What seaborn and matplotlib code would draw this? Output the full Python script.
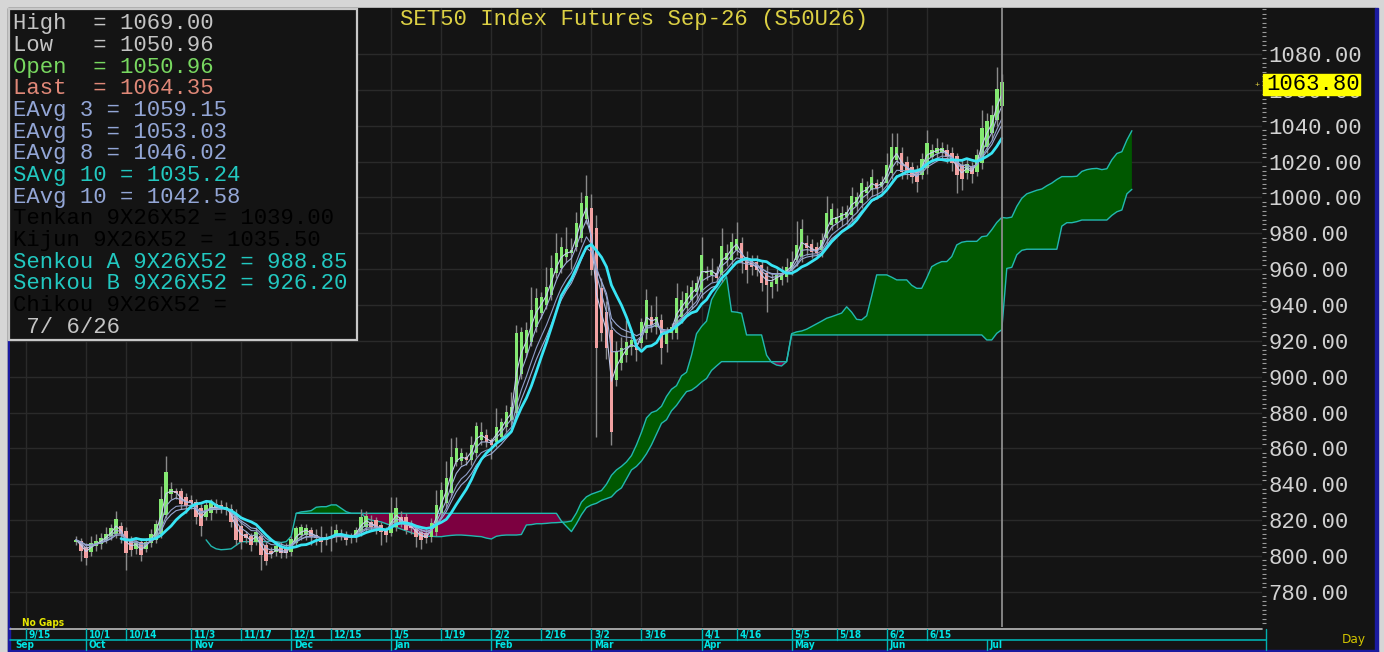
import numpy as np
import pandas as pd
import seaborn as sns
import matplotlib.pyplot as plt
import matplotlib.transforms as mtrans
from matplotlib import font_manager
from matplotlib.lines import Line2D
from matplotlib.patches import Rectangle
from matplotlib.ticker import MultipleLocator

# ---------------- data ----------------
# bar positions: 9/15 = 0, first candle sits at position 10
first_bar = 10

open_ = [808, 808.5, 805, 802, 805.5, 806.5, 809, 811, 812.5, 817,
         814, 809, 804, 808, 804, 807, 809, 812, 823, 834.5,
         836, 836, 833, 831, 830, 826.5, 822, 824, 829, 828.5,
         825.5, 826, 823, 817, 812, 811, 808, 811, 806, 803,
         802.5, 805.5, 805, 802.5, 807, 811.5, 811.5, 814.5, 811.7, 810.8,
         810.8, 810, 810.8, 812, 811.7, 810, 810.8, 813.6, 816.4, 819.2,
         820, 817.3, 814.5, 813, 816.4, 822, 822, 818.2, 814.9, 813.6,
         812.7, 810.8, 813.6, 823.8, 829.4, 835, 852.6, 853, 855.4, 853.6,
         857.3, 864.7, 867.5, 864.7, 863.8, 866.6, 871.8, 875.9, 879.6, 901.5,
         913.4, 919.6, 927.9, 935.4, 940, 945.6, 957.7, 960.5, 966.6, 969,
         972.5, 977.2, 988, 993.9, 982.8, 949.3, 936.3, 926.1, 898.2, 907.5,
         912.1, 916.8, 918.7, 918.7, 924.2, 933.5, 927.9, 931.7, 918, 924.2,
         924.2, 933.5, 938.2, 942.8, 947.5, 947.5, 957.7, 956.8, 957.7, 956.8,
         965.1, 965.1, 970.7, 974.4, 967, 965.1, 964.2, 962.3, 957.7, 950.3,
         951.8, 954, 955.8, 959.6, 965.1, 967, 974.4, 973.9, 972.2, 970.7,
         977.2, 984.7, 986, 987.4, 988.9, 990.2, 995.3, 996.7, 1002.3, 1004.2,
         1007.9, 1006.4, 1007.9, 1013.5, 1020.9, 1024.6, 1020, 1017.2, 1015.3, 1012.5,
         1016.3, 1022.8, 1024.6, 1024.6, 1026.5, 1024.6, 1023, 1018, 1013.8, 1017.2,
         1014.4, 1019, 1028.3, 1035.7, 1043, 1050.96]

high = [811, 810, 807, 811, 812, 813, 816, 818, 825, 819,
        816, 811, 809, 810, 810, 815, 820, 839, 856, 841,
        838, 838, 835, 834, 832, 829, 831, 832, 832, 831,
        830, 829, 826, 820, 814, 813, 816, 813, 808, 805,
        808, 808, 807, 811, 817, 818, 818, 816, 815, 817,
        813, 817, 818, 815, 814, 813, 816, 826, 825, 823,
        822, 819, 816, 833, 833, 825, 824, 820, 817, 815,
        815, 821, 837, 841, 853, 866, 866.6, 860, 858, 867,
        874.9, 874.9, 871, 866, 882.4, 877, 884.2, 891.7, 928.9, 928,
        930.7, 950.2, 949.3, 947, 961.4, 967.9, 980, 978.1, 983.7, 977.2,
        992.1, 1003.2, 1012.5, 1002, 990, 955, 942, 931, 920, 922,
        931.7, 925, 921, 933, 949, 940, 945, 935, 928, 930,
        952, 948, 951, 954, 956, 978, 962, 966, 962, 982.8,
        974, 980, 986.4, 978, 970, 968, 968, 965, 962, 958,
        960, 962, 966, 970, 987, 988, 979, 977, 975, 980,
        1001, 997, 994, 995, 996, 1006, 1003, 1011, 1009, 1016,
        1010, 1012, 1025, 1036, 1036, 1028, 1023, 1020, 1018, 1025,
        1037.5, 1030, 1033, 1031, 1030, 1028, 1025, 1021, 1022, 1020,
        1027, 1048.8, 1046.9, 1051.5, 1072.9, 1069]

low = [806, 797, 795, 800, 803, 804, 807, 809, 810, 807,
       792, 800, 801, 797, 802, 805, 807, 810, 821, 832,
       832, 826, 824, 826, 818, 811, 820, 820, 824, 824,
       823, 816, 806, 804, 807, 803, 806, 792, 795, 799,
       800, 799, 799, 800, 805, 809, 809, 806, 806, 802.4,
       806, 803, 808, 809, 806, 807, 808, 811, 814, 814,
       812, 806, 808, 811, 814, 816, 812, 812, 805, 804,
       807, 808, 811, 821, 827, 833, 850, 851, 851, 851,
       855, 862, 861, 854, 861, 864, 869, 873, 877, 899,
       911, 917, 925, 933, 938, 943, 955, 958, 964, 960,
       970, 975, 985, 957, 866.6, 920, 910, 862, 895, 904,
       908, 912, 909, 916, 921, 925, 924, 907, 914, 921,
       921, 930, 934, 938, 943, 944, 954, 953, 952, 953,
       962, 962, 968, 958, 952, 957, 956, 948, 936.3, 944,
       948, 951, 953, 957, 962, 964, 968, 966, 966, 967,
       974, 982, 983, 984, 985, 987, 992, 994, 999, 1001,
       999, 1003, 1005, 1010, 1018, 1010, 1010, 1008, 1003, 1010,
       1013, 1020, 1021, 1021, 1019, 1015, 1002.3, 1004, 1010, 1008,
       1012, 1016, 1025, 1032, 1040, 1050.96]

close = [809, 803, 799, 807, 808.5, 810, 812.5, 815.5, 820.5, 812,
         801.5, 803.5, 807, 800.5, 808, 812.5, 818, 832, 847, 837.5,
         835, 829, 828, 829.5, 822, 816.5, 828.5, 829.5, 826.5, 826.5,
         827.5, 819, 809, 808, 810, 806, 813.5, 800.5, 797, 801,
         805.5, 801.5, 801.5, 809.5, 815.5, 816, 815.5, 810.8, 809.9, 808,
         809, 810.5, 814.5, 811, 808.9, 811, 814.5, 821.6, 822.3, 816.4,
         815.4, 813.6, 811.7, 824.2, 826.6, 818.2, 814.5, 815.4, 810.8, 808.9,
         809.9, 818.2, 828.5, 836.8, 843.3, 855.4, 860.1, 857.3, 853.6, 861.9,
         872.5, 869.4, 863.8, 862, 871.8, 874.9, 880.5, 883.3, 924.2, 925.1,
         926.1, 937.2, 943.7, 944.7, 950.2, 960.5, 969.2, 972.2, 971.1, 970.7,
         985.9, 997.1, 1000.8, 959.5, 915.9, 924.2, 915.9, 869.4, 914, 915.9,
         919.6, 920.5, 914.9, 930.7, 942.8, 928.9, 933.5, 915.9, 924, 927.9,
         943.7, 942.8, 946.5, 950.3, 952.1, 967.9, 958.6, 959.5, 954.9, 972.9,
         968.8, 975.3, 976.7, 964.2, 959.5, 961.4, 959.5, 952.1, 951.2, 953.1,
         956.8, 958.1, 961.4, 964.2, 973.5, 982.2, 971.6, 969.8, 968.9, 976.3,
         991.5, 993.4, 989.3, 991.2, 992.1, 1000.8, 1000.1, 1007.9, 1005.7, 1011.2,
         1005.1, 1008.8, 1018.1, 1028.4, 1028.4, 1014.4, 1014.4, 1011.6, 1008.8, 1021.3,
         1030.6, 1026.5, 1027.4, 1027.4, 1022.8, 1019.1, 1012.5, 1010.1, 1018.6, 1012.8,
         1023.7, 1038.5, 1042.8, 1046, 1060.3, 1064.35]

# Ichimoku cloud lines (already shifted forward), positions start at these bars
senkou_a_start = 36
senkou_a = ([809, 805.5, 804, 803.5, 803.7, 804, 806, 808, 808, 808,
             808, 808, 808, 808.5, 808, 807.5, 808, 811]
            + [823.8, 824.6, 824.9, 825.3, 827.2, 827.5, 827.5, 828.5, 828.5, 826.6,
               824.7, 823.8, 823.8, 823.8]
            + [821, 820, 819.5, 819, 818, 817, 816, 815, 814, 813,
               812, 811.5, 811, 811, 810.8, 810.8, 811.2, 811.5, 811.7, 811.7,
               811.5, 811.3, 811, 810.8, 810, 809.5, 811, 811.5, 811.7, 811.7,
               811.7, 812, 817.3, 817.5, 818, 818, 818.2, 818.5, 818.6]
            + [818.8, 819, 819.5, 824, 830, 833, 834.5, 835.5, 836.5, 840, 845]
            + [848, 850, 852.5, 856, 862, 869, 877, 880, 881, 883.5,
               889, 893, 895, 900.5, 902.5, 912, 924, 928, 931, 943,
               948, 952, 955.8, 936.3, 936, 935.4, 923.3, 923.3, 923.3, 923.3]
            + [912, 908, 906.5, 906, 908.4, 924]
            + [925, 925.5, 926.5, 928, 929.5, 931, 932.6, 933.5, 934.5, 935.5,
               939, 936, 932, 931.7, 934, 945, 956.8, 956.8, 956.8, 955.5,
               954, 954, 954, 951, 949.3, 949.3, 955, 961.4, 963, 964.2,
               964.2, 967, 973.5, 975, 975.5, 975.5, 975.5, 978.1, 978.5, 982,
               986, 988.85]
            + [988.5, 989, 995, 999.5, 1002, 1003, 1004, 1004.7, 1006.5, 1008,
               1010, 1011.6, 1011.6, 1011.6, 1011.8, 1014.5, 1015.5, 1016, 1016.2, 1015.5,
               1016, 1021, 1024.5, 1025.5, 1032, 1037.2])

senkou_b_start = 54
senkou_b = ([823.8] * 53
            + [819.5, 816.5, 813.6, 818, 823, 827, 828.5, 829.4, 831, 832, 833]
            + [836, 838, 843, 848, 850, 853, 857, 862, 868, 874,
               876, 881, 884, 888, 891.7, 892.5, 894.5, 897, 899, 903.5,
               906, 908.4]
            + [908.4] * 13
            + [923.3] * 39
            + [920.5, 920.5, 924.2, 926.2]
            + [960.4, 961, 968, 970.5] + [971.1] * 7
            + [984, 985.9, 985.9, 986.5] + [987.4] * 6
            + [990, 992, 993, 1002, 1004.5])

date_ticks = [0, 12, 20, 33, 43, 53, 61, 73, 83, 93, 103, 113, 123,
              135, 142, 153, 162, 172, 180]
date_labels = ["9/15", "10/1", "10/14", "11/3", "11/17", "12/1", "12/15",
               "1/5", "1/19", "2/2", "2/16", "3/2", "3/16", "4/1", "4/16",
               "5/5", "5/18", "6/2", "6/15"]
month_ticks = [12, 33, 53, 73, 93, 113, 135, 153, 172, 192]
month_labels = ["Oct", "Nov", "Dec", "Jan", "Feb", "Mar", "Apr", "May",
                "Jun", "Jul"]

price_ticks = list(range(780, 1081, 20))
last_marker = 1063.80
cursor_bar = 195

title = "SET50 Index Futures Sep-26 (S50U26)"
info_lines = [
    ("High  = 1069.00", "#c4c4c4"),
    ("Low   = 1050.96", "#c4c4c4"),
    ("Open  = 1050.96", "#78d860"),
    ("Last  = 1064.35", "#e08878"),
    ("EAvg 3 = 1059.15", "#93a6d6"),
    ("EAvg 5 = 1053.03", "#93a6d6"),
    ("EAvg 8 = 1046.02", "#93a6d6"),
    ("SAvg 10 = 1035.24", "#22c8c0"),
    ("EAvg 10 = 1042.58", "#93a6d6"),
    ("Tenkan 9X26X52 = 1039.00", "#000000"),
    ("Kijun 9X26X52 = 1035.50", "#000000"),
    ("Senkou A 9X26X52 = 988.85", "#22c8c0"),
    ("Senkou B 9X26X52 = 926.20", "#22c8c0"),
    ("Chikou 9X26X52 =", "#000000"),
    (" 7/ 6/26", "#c4c4c4"),
]

# ---------------- styling ----------------
sns.set_theme(style="dark")
MONO = "Liberation Mono"
plt.rcParams["font.family"] = [MONO, "DejaVu Sans Mono"]


def font_ok(name, **kw):
    try:
        font_manager.findfont(font_manager.FontProperties(family=name, **kw),
                              fallback_to_default=False)
        return True
    except ValueError:
        return False


if font_ok("Liberation Sans Narrow"):
    narrow = dict(fontfamily="Liberation Sans Narrow", fontsize=8.8)
else:
    narrow = dict(fontfamily="DejaVu Sans", fontstretch="condensed", fontsize=7.2)

W, H = 1384, 652
BG = "#141414"
GRID = "#2a2a2a"
CYAN = "#00e4e4"
NAVY = "#1a1aa0"

fig = plt.figure(figsize=(W / 100, H / 100), dpi=100, facecolor="#d6d6d6")


def fx(x):
    return x / W


def fy(y):
    return 1 - y / H


# dark panel and blue frame
fig.add_artist(Rectangle((fx(8), fy(650)), (1375 - 8) / W, (650 - 8) / H,
                         transform=fig.transFigure, color=BG, zorder=-5))
fig.add_artist(Rectangle((fx(1375), fy(652)), 3 / W, (652 - 8) / H,
                         transform=fig.transFigure, color=NAVY, zorder=-4))
fig.add_artist(Rectangle((fx(8), fy(652)), (1378 - 8) / W, 2 / H,
                         transform=fig.transFigure, color=NAVY, zorder=-4))
fig.add_artist(Rectangle((fx(8), fy(652)), 1.5 / W, (652 - 340) / H,
                         transform=fig.transFigure, color=NAVY, zorder=-4))

ax = fig.add_axes([fx(10), fy(627), 1252 / W, 619 / H])
ax.set_facecolor(BG)
for s in ax.spines.values():
    s.set_visible(False)

n = len(close)
pos = np.arange(n) + first_bar
o = np.array(open_)
c = np.array(close)
h = np.array(high)
l = np.array(low)

# cloud
a_pos = np.arange(len(senkou_a)) + senkou_a_start
b_pos = np.arange(len(senkou_b)) + senkou_b_start
a_ser = pd.Series(senkou_a, index=a_pos)
b_ser = pd.Series(senkou_b, index=b_pos)
both = pd.concat([a_ser, b_ser], axis=1, keys=["a", "b"]).dropna()
ax.fill_between(both.index, both["a"], both["b"], where=both["a"] >= both["b"],
                interpolate=True, color="#005800", lw=0, zorder=2)
ax.fill_between(both.index, both["a"], both["b"], where=both["a"] < both["b"],
                interpolate=True, color="#7c0040", lw=0, zorder=2)
ax.plot(a_pos, senkou_a, color="#22b8b0", lw=1.0, zorder=2.5)
ax.plot(b_pos, senkou_b, color="#22b8b0", lw=1.0, zorder=2.5)

# candles
ax.vlines(pos, l, h, color="#8a8a8a", lw=1.0, zorder=3)
up = c >= o
body_lo = np.minimum(o, c)
body_h = np.maximum(np.abs(c - o), 0.6)
ax.bar(pos, body_h, bottom=body_lo, width=0.72,
       color=np.where(up, "#84e872", "#f2a2a2"), lw=0, zorder=4)

# moving averages
cs = pd.Series(c, index=pos)
ma = pd.DataFrame({
    "EAvg 3": cs.ewm(span=3, adjust=False).mean(),
    "EAvg 5": cs.ewm(span=5, adjust=False).mean(),
    "EAvg 8": cs.ewm(span=8, adjust=False).mean(),
    "EAvg 10": cs.ewm(span=10, adjust=False).mean(),
    "SAvg 10": cs.rolling(10).mean(),
})
thin_colors = {"EAvg 3": "#c4ccee", "EAvg 5": "#a4b2dc",
               "EAvg 8": "#8e9cc6", "EAvg 10": "#9aaad6"}
for name, col in thin_colors.items():
    sns.lineplot(x=ma.index, y=ma[name], ax=ax, color=col, lw=0.8, zorder=5)
sns.lineplot(x=ma.index, y=ma["SAvg 10"], ax=ax, color="#38e4f4", lw=2.0, zorder=6)

ax.axvline(cursor_bar, color="#8c8c8c", lw=1.3, zorder=7)

# scales
ax.set_xlim(-3.19, 247.0)
ax.set_ylim(760.4, 1105.65)
ax.set_xlabel("")
ax.set_ylabel("")
ax.set_xticks(date_ticks)
ax.tick_params(axis="x", length=0, labelbottom=False)
ax.yaxis.tick_right()
ax.set_yticks(price_ticks)
ax.set_yticklabels([f"{v:.2f}" for v in price_ticks])
ax.yaxis.set_minor_locator(MultipleLocator(2.5))
ax.tick_params(axis="y", which="major", length=0, pad=4.5, labelsize=16,
               labelcolor="#d2d2d2", right=True, left=False)
ax.tick_params(axis="y", which="minor", length=3, width=0.8, color="#9a9a9a",
               right=True, left=False, direction="out")
for t in ax.get_yticklabels():
    t.set_fontfamily(MONO)
ax.grid(True, which="major", color=GRID, lw=1.0)
ax.set_axisbelow(True)

# last price marker
fig.add_artist(Rectangle((fx(1263), fy(95)), 97 / W, 21 / H,
                         transform=fig.transFigure, color="#ffff00", zorder=10))
fig.text(fx(1266), fy(85), f"{last_marker:.2f}", fontfamily=MONO, fontsize=16,
         color="#000000", ha="left", va="center", zorder=11)
fig.text(fx(1257), fy(85), "+", fontsize=6, color="#e0d040", ha="center",
         va="center", zorder=11)

# bottom date strip
bt = mtrans.blended_transform_factory(ax.transData, fig.transFigure)
fig.add_artist(Line2D([fx(10), fx(1262)], [fy(628.5)] * 2, transform=fig.transFigure,
                      color="#bdbdbd", lw=1.2))
fig.add_artist(Line2D([fx(10), fx(1266)], [fy(640)] * 2, transform=fig.transFigure,
                      color="#00b0b0", lw=1.2))
fig.add_artist(Line2D([fx(1266)] * 2, [fy(629), fy(650)], transform=fig.transFigure,
                      color="#00b0b0", lw=1.0))
for p, lab in zip(date_ticks, date_labels):
    fig.add_artist(Line2D([p, p], [fy(629), fy(640)], transform=bt,
                          color="#00b8b8", lw=1.0))
    fig.text(p + 0.55, fy(635), lab, transform=bt, color=CYAN, fontweight="bold",
             ha="left", va="center", **narrow)
for p, lab in zip(month_ticks, month_labels):
    fig.add_artist(Line2D([p, p], [fy(640), fy(650)], transform=bt,
                          color="#00b8b8", lw=1.0))
    fig.text(p + 0.55, fy(645.5), lab, transform=bt, color=CYAN, fontweight="bold",
             ha="left", va="center", **narrow)
fig.text(fx(15), fy(645.5), "Sep", color=CYAN, fontweight="bold",
         ha="left", va="center", **narrow)
fig.text(fx(22), fy(623), "No Gaps", color="#e8e800", fontweight="bold",
         ha="left", va="center", **narrow)
fig.text(fx(1342), fy(640), "Day", color="#d2c400", ha="left", va="center",
         fontfamily=narrow["fontfamily"], fontsize=narrow["fontsize"] + 1.5)

# title
fig.text(fx(634), fy(20), title, fontfamily=MONO, fontsize=16, color="#dcd044",
         ha="center", va="center", zorder=9)

# info box
fig.add_artist(Rectangle((fx(9), fy(340)), (357 - 9) / W, (340 - 9) / H,
                         transform=fig.transFigure, facecolor=BG,
                         edgecolor="#c8c8c8", lw=1.6, zorder=8))
for k, (txt, col) in enumerate(info_lines):
    fig.text(fx(13), fy(24 + 21.65 * k), txt, fontfamily=MONO, fontsize=16,
             color=col, ha="left", va="center", zorder=9)

fig.savefig("out.png", dpi=100, facecolor=fig.get_facecolor())
